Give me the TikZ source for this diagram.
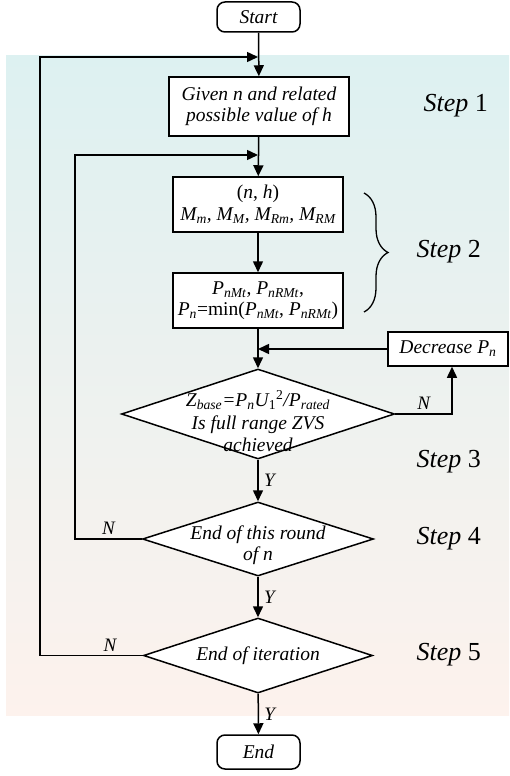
\documentclass[tikz,border=0pt]{standalone}
\usepackage{fontspec}
\setmainfont{Liberation Serif}
\usetikzlibrary{shapes.geometric,arrows.meta,decorations.pathreplacing}
\definecolor{bgtop}{RGB}{221,241,241}
\definecolor{bgbot}{RGB}{253,242,237}
\newcommand{\Sb}[1]{\textsubscript{\itshape #1}}
\begin{document}
\begin{tikzpicture}[x=1pt,y=-1pt,
  every node/.style={font=\fontsize{19.5}{21.5}\selectfont\itshape},
  box/.style={draw, line width=1.5pt, fill=white, inner sep=0pt, align=center},
  term/.style={draw, line width=1.5pt, fill=white, rounded corners=8pt, minimum width=83pt, minimum height=30pt, inner sep=0pt},
  dia/.style={draw, line width=1.5pt, fill=white, diamond, inner sep=0pt},
  flow/.style={line width=1.5pt, -{Triangle[length=11pt,width=10pt]}},
  steplbl/.style={font=\fontsize{26}{28}\selectfont, anchor=west},
  yn/.style={font=\fontsize{19}{21}\selectfont\itshape}
]
\useasboundingbox (0,0) rectangle (509,776);
\shade[top color=bgtop, bottom color=bgbot] (6,56) rectangle (509,715);

\node[term] (start) at (258.5,17) {Start};
\node[box, minimum width=180pt, minimum height=59pt] (given) at (259,106.5) {Given n and related\\possible value of h};
\node[box, minimum width=170pt, minimum height=55pt] (nh) at (258,204.5) {\upshape(\textit{n}, \textit{h})\\\textit{M}\Sb{m}, \textit{M}\Sb{M}, \textit{M}\Sb{Rm}, \textit{M}\Sb{RM}};
\node[box, minimum width=170pt, minimum height=55pt] (pn) at (258,300.5) {\upshape\textit{P}\Sb{nMt}, \textit{P}\Sb{nRMt},\\\upshape\textit{P}\Sb{n}=min(\textit{P}\Sb{nMt}, \textit{P}\Sb{nRMt})};
\node[box, minimum width=120pt, minimum height=34pt] (dec) at (448,349) {Decrease \textit{P}\Sb{n}};

\node[dia, minimum width=273pt, minimum height=90pt] (d1) at (258,414) {};
\node[align=center, font=\fontsize{19.5}{22.5}\selectfont\itshape] (d1t) at (258,421) {Z\Sb{base}=P\Sb{n}U\textsubscript{\upshape 1}\textsuperscript{\upshape 2}/P\Sb{rated}\\Is full range ZVS\\achieved};
\node[dia, minimum width=231pt, minimum height=74pt] (d2) at (258,539) {};
\node[align=center] (d2t) at (258,545) {End of this round\\of n};
\node[dia, minimum width=229pt, minimum height=75pt] (d3) at (258,655.5) {};
\node (d3t) at (258,655.5) {End of iteration};
\node[term, minimum height=34pt] (end) at (258.5,752) {End};

\coordinate (j1) at (258,57);
\coordinate (j2) at (258,155);
\coordinate (j3) at (258,349);

\draw[flow] (start) -- (given);
\draw[flow] (given) -- (nh);
\draw[flow] (nh) -- (pn);
\draw[flow] (pn) -- (d1);
\draw[flow] (d1) -- node[yn, right, xshift=2pt] {Y} (d2);
\draw[flow] (d2) -- node[yn, right, xshift=2pt] {Y} (d3);
\draw[flow] (d3) -- node[yn, right, xshift=2pt] {Y} (end);

\draw[flow] (d1.east) -- node[yn, above, pos=0.5] {N} (452,414) -- ([xshift=4pt]dec.south);
\draw[flow] (dec.west) -- (j3);
\draw[flow] (d2.west) -- node[yn, above, pos=0.5] {N} (75,539) -- (75,155) -- (j2);
\draw[flow] (d3.west) -- node[yn, above, pos=0.32] {N} (40,655.5) -- (40,57) -- (j1);

\draw[line width=1.3pt, decorate, decoration={brace, amplitude=24pt}] (364,193) -- (364,312);

\node[steplbl] (s1) at (420,106) {\textit{Step} 1};
\node[steplbl] (s2) at (413,252) {\textit{Step} 2};
\node[steplbl] (s3) at (413,462) {\textit{Step} 3};
\node[steplbl] (s4) at (413,539) {\textit{Step} 4};
\node[steplbl] (s5) at (413,655) {\textit{Step} 5};
\end{tikzpicture}
\end{document}
